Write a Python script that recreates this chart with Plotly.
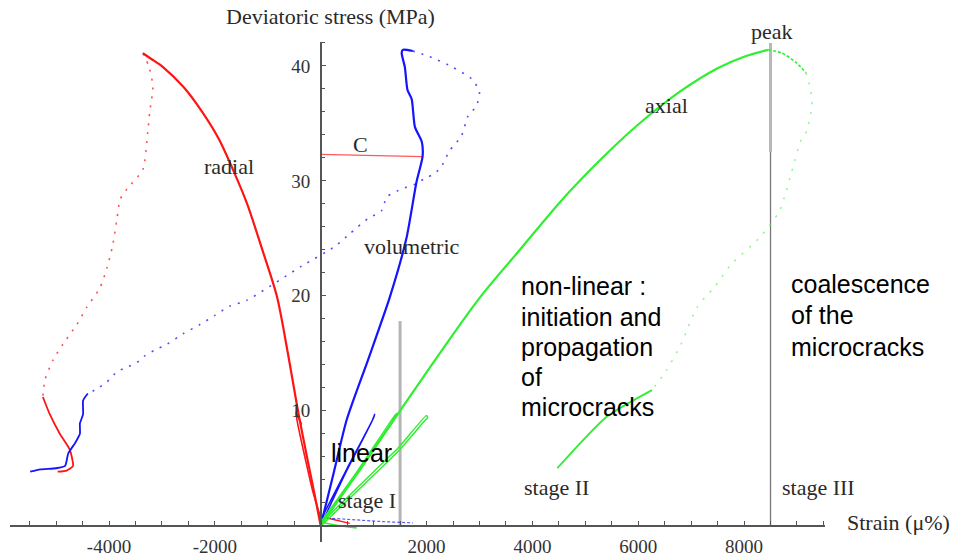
import numpy as np
import plotly.graph_objects as go

# ---------------- data (strain in micro-%, deviatoric stress in MPa) ----------------
radial_x = [0, -110, -260, -430, -620, -830, -1110, -1390, -1660, -1920, -2240, -2600, -2980, -3200, -3360]
radial_y = [0, 2.6, 6.0, 10.0, 15.0, 20.0, 24.1, 28.0, 31.0, 33.6, 36.0, 38.2, 39.9, 40.6, 41.1]
radial_cyc_x = [-360, -440, -470, -440, -300, -150, 20]
radial_cyc_y = [8.8, 9.6, 9.9, 9.0, 6.0, 3.0, 0.4]
radial_base_x = [0, 300, 550]
radial_base_y = [0.8, 0.5, 0.2]
radial_post_x = [-3360, -3250, -3170, -3230, -3270, -3360, -3660, -3790, -3850, -3930, -4040, -4170,
                 -4420, -4610, -4870, -5060, -5210, -5250]
radial_post_y = [41.1, 40.0, 38.2, 36.0, 34.2, 31.0, 29.3, 28.4, 26.7, 24.4, 22.4, 20.7,
                 19.0, 17.5, 15.8, 14.4, 12.7, 11.2]
radial_end_x = [-5250, -5120, -4930, -4740, -4680, -4800, -4970]
radial_end_y = [11.2, 9.7, 8.0, 6.6, 5.2, 4.8, 4.7]

vol_x = [0, 230, 490, 900, 1300, 1620, 1810, 1925, 1910, 1780, 1720, 1640, 1590, 1530, 1550, 1740]
vol_y = [0, 4.3, 9.2, 14.5, 19.8, 25.0, 29.9, 32.1, 33.4, 34.7, 37.1, 37.9, 39.9, 41.1, 41.4, 41.3]
vol_cyc_x = [0, 500, 1000, 1020, 960, 450, 30]
vol_cyc_y = [0.5, 5.0, 9.4, 9.7, 9.0, 4.4, 0.3]
vol_base_x = [30, 600, 1200, 1740]
vol_base_y = [0.7, 0.5, 0.35, 0.25]
vol_post_x = [1740, 2060, 2490, 2870, 3000, 2940, 2780, 2660, 2430, 2300, 2150, 2000, 1780, 1530,
              1250, 1150, 890, 700, 550, 270, -355, -1400, -1720, -2000, -2280, -2600, -2900,
              -3130, -3320, -3470, -3660, -3850, -4040, -4230, -4400]
vol_post_y = [41.3, 40.8, 39.9, 38.8, 37.7, 36.5, 35.6, 33.9, 32.6, 31.4, 30.6, 30.3, 29.7, 29.3,
              28.6, 27.4, 26.7, 26.0, 25.4, 24.3, 22.6, 19.6, 19.1, 18.3, 17.5, 16.7, 15.8,
              15.3, 14.8, 14.2, 13.8, 13.4, 12.5, 11.9, 11.5]
vol_end_x = [-4400, -4490, -4490, -4550, -4550, -4640, -4770, -4830, -5000, -5300, -5490]
vol_end_y = [11.5, 10.9, 9.7, 8.9, 8.0, 7.2, 6.3, 5.2, 5.0, 4.9, 4.7]

axial_x = [0, 750, 1500, 2250, 3000, 3800, 4550, 5300, 6000, 6800, 7500, 8000, 8450]
axial_y = [0, 5.0, 10.0, 15.0, 19.8, 24.2, 28.3, 31.9, 34.9, 37.8, 39.8, 40.8, 41.4]
axial_cyc1_x = [0, 700, 1400, 1440, 1350, 680, 20]
axial_cyc1_y = [0.3, 4.8, 9.6, 9.8, 9.0, 4.4, 0.2]
axial_cyc2_x = [0, 1000, 1490, 2000, 2020, 1940, 1470, 980, 30]
axial_cyc2_y = [0.2, 4.7, 6.9, 9.6, 9.4, 9.0, 6.5, 4.3, 0.1]
axial_base_x = [0, 350, 680]
axial_base_y = [0.3, 0.0, -0.2]
axial_soft_x = [8450, 8720, 8980, 9170]
axial_soft_y = [41.4, 41.1, 40.3, 39.4]
axial_post_x = [9170, 9260, 9280, 9170, 9080, 8900, 8790, 8660, 8280, 7750, 7430, 7110, 6810, 6530, 6260]
axial_post_y = [39.4, 37.9, 36.5, 34.2, 33.6, 30.8, 29.0, 27.3, 25.0, 22.7, 20.7, 19.0, 15.8, 13.5, 11.8]
axial_end_x = [6260, 5410, 4470]
axial_end_y = [11.8, 9.5, 5.0]

c_x = [0, 1925]
c_y = [32.3, 32.1]

stage_bounds = [1500, 8500]
stage1_top = 17.8
peak_mark_low = 32.5
peak_mark_top = 42.0

x_ticks = [-4000, -2000, 2000, 4000, 6000, 8000]
y_ticks = [10, 20, 30, 40]

# ---------------- figure ----------------
W, H = 953, 557
RED = "#ff1414"
BLUE = "#1414ff"
GREEN = "#30ee30"

fig = go.Figure()


def line(x, y, color, width=2.0, dash="solid", opacity=1.0, smooth=None):
    ln = dict(color=color, width=width, dash=dash)
    if smooth:
        ln.update(shape="spline", smoothing=smooth)
    fig.add_trace(go.Scatter(x=x, y=y, mode="lines", opacity=opacity, line=ln,
                             hoverinfo="skip", showlegend=False))


# stage boundary lines
line([stage_bounds[0], stage_bounds[0]], [0, stage1_top], "#b4b4b4", 3)
line([stage_bounds[1], stage_bounds[1]], [peak_mark_low, peak_mark_top], "#b8b8b8", 3)
line([stage_bounds[1], stage_bounds[1]], [0, peak_mark_low], "#777777", 1.3)

# radial (red)
line(radial_base_x, radial_base_y, RED, 1.4)
line(radial_cyc_x, radial_cyc_y, RED, 1.6, smooth=0.6)
line(radial_x, radial_y, RED, 2.2, smooth=0.8)
line(radial_post_x, radial_post_y, RED, 1.6, "2px,7px", 0.75, smooth=0.6)
line(radial_end_x, radial_end_y, RED, 1.8, smooth=0.5)
line(c_x, c_y, "#ff5a5a", 1.3)

# volumetric (blue)
line(vol_base_x, vol_base_y, BLUE, 1.2, "3px,2px", 0.7)
line(vol_cyc_x, vol_cyc_y, BLUE, 1.5, smooth=0.5)
line(vol_x, vol_y, BLUE, 2.2, smooth=0.6)
line(vol_post_x, vol_post_y, BLUE, 1.6, "2px,7px", 0.75, smooth=0.6)
line(vol_end_x, vol_end_y, BLUE, 1.8, smooth=0.5)

# axial (green)
line(axial_base_x, axial_base_y, GREEN, 1.4)
line(axial_cyc1_x, axial_cyc1_y, GREEN, 1.5, smooth=0.5)
line(axial_cyc2_x, axial_cyc2_y, GREEN, 1.5, smooth=0.5)
line(axial_x, axial_y, GREEN, 2.2, smooth=0.9)
line(axial_soft_x, axial_soft_y, GREEN, 1.6, "3px,2px", smooth=0.8)
line(axial_post_x, axial_post_y, "#60f060", 1.5, "2px,8px", 0.7, smooth=0.7)
line(axial_end_x, axial_end_y, GREEN, 1.8, smooth=0.6)

# ---------------- axes crossing at the origin ----------------
x_left_px, x_right_px = 10, 825
x0_px, px_per_x = 320.7, 0.05292
y_top_px, y_bot_px = 42, 547
y0_px, px_per_y = 530.5, 11.6

x_range = [(x_left_px - x0_px) / px_per_x, (x_right_px - x0_px) / px_per_x]
y_range = [(y0_px - y_bot_px) / px_per_y, (y0_px - y_top_px) / px_per_y]

SERIF = "Liberation Serif, Times New Roman, serif"
SANS = "Liberation Sans, Arial, sans-serif"
AXC = "#555555"

fig.update_layout(
    width=W, height=H,
    margin=dict(l=0, r=0, t=0, b=0),
    paper_bgcolor="white", plot_bgcolor="white",
    showlegend=False,
    xaxis=dict(domain=[x_left_px / W, x_right_px / W], range=x_range,
               anchor="free", position=1 - y0_px / H,
               showgrid=False, zeroline=False, showline=True, linecolor=AXC, linewidth=1.5,
               tickmode="array", tickvals=x_ticks, ticktext=[str(v) for v in x_ticks],
               ticks="inside", ticklen=4, tickcolor=AXC, tickwidth=1,
               tickfont=dict(family=SERIF, size=19, color="#333333"),
               ticklabelstandoff=4,
               minor=dict(tickmode="array", tickvals=list(np.arange(-5500, 9501, 500)),
                          ticks="inside", ticklen=4, tickcolor=AXC, showgrid=False)),
    yaxis=dict(domain=[1 - y_bot_px / H, 1 - y_top_px / H], range=y_range,
               anchor="free", position=x0_px / W,
               showgrid=False, zeroline=False, showline=True, linecolor=AXC, linewidth=1.5,
               tickmode="array", tickvals=y_ticks, ticktext=[str(v) for v in y_ticks],
               ticks="inside", ticklen=5, tickcolor=AXC, tickwidth=1,
               tickfont=dict(family=SERIF, size=19, color="#333333"),
               ticklabelstandoff=6,
               minor=dict(tickmode="array", tickvals=list(np.arange(2, 43, 2)),
                          ticks="inside", ticklen=4, tickcolor=AXC, showgrid=False)),
)


def P(px, py):
    return px / W, 1 - py / H


serif_labels = [
    ("Deviatoric stress (MPa)", 330, 17),
    ("Strain (\u03bc%)", 898, 527),
    ("peak", 772, 32),
    ("axial", 666, 106),
    ("radial", 229, 168),
    ("C", 360, 146),
    ("volumetric", 412, 249),
    ("stage I", 367, 505),
    ("stage II", 556, 492),
    ("stage III", 818, 492),
]
for txt, px, py in serif_labels:
    xp, yp = P(px, py)
    fig.add_annotation(x=xp, y=yp, xref="paper", yref="paper", text=txt, showarrow=False,
                       xanchor="center", yanchor="middle",
                       font=dict(family=SERIF, size=22, color="#2a2a2a"))

sans_labels = [
    ("linear", 330, 457),
    ("non-linear :", 520, 289),
    ("initiation and", 520, 320),
    ("propagation", 520, 350),
    ("of", 520, 380),
    ("microcracks", 520, 411),
    ("coalescence", 790, 287),
    ("of the", 790, 318),
    ("microcracks", 790, 350),
]
for txt, px, py in sans_labels:
    xp, yp = P(px, py)
    fig.add_annotation(x=xp, y=yp, xref="paper", yref="paper", text=txt, showarrow=False,
                       xanchor="left", yanchor="middle", borderpad=0,
                       font=dict(family=SANS, size=25, color="#000000"))

fig.write_html("out.html")
